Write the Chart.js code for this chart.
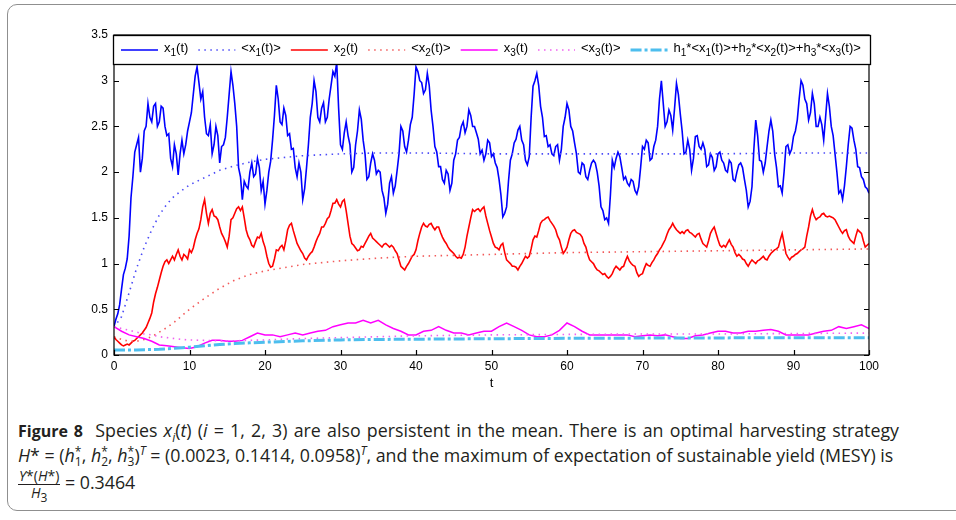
<!DOCTYPE html>
<html>
<head>
<meta charset="utf-8">
<script src="https://cdn.jsdelivr.net/npm/chart.js@4.4.0/dist/chart.umd.min.js"></script>
<style>
  html, body { margin: 0; padding: 0; background: #fff; }
  body { width: 956px; height: 520px; position: relative; overflow: hidden; }
  .frame { position: absolute; left: 7px; top: 4px; width: 990px; height: 507px; box-sizing: border-box;
           border: 1.5px solid #8f8f8f; border-radius: 10px; }
  #plot { position: absolute; left: 0; top: 0; }
  .cap { position: absolute; left: 18px; font-family: "Open Sans", "Noto Sans", sans-serif; font-size: 17.8px;
         color: #231f20; white-space: nowrap; line-height: 22px; }
  .cap b { font-weight: 700; font-size: 16px; }
  .cap sub, .cap sup { font-size: 12px; line-height: 0; }
  .ss { display: inline-block; vertical-align: -4px; line-height: 10px; font-size: 12px; }
  .ss span { display: block; }
  .frac { display: inline-block; vertical-align: middle; text-align: center; font-size: 14px; line-height: 16px; }
  .frac .num { display: block; border-bottom: 1px solid #231f20; padding: 0 1px; }
  .frac .den { display: block; }
</style>
</head>
<body>
<div class="frame"></div>
<canvas id="plot" width="956" height="400"></canvas>

<div class="cap" style="top:419px; word-spacing:1.6px"><b>Figure 8</b>&nbsp; Species <i>x<sub>i</sub></i>(<i>t</i>) (<i>i</i> = 1, 2, 3) are also persistent in the mean. There is an optimal harvesting strategy</div>
<div class="cap" style="top:444px"><i>H</i>* = (<i>h</i><span class="ss"><span>*</span><span>1</span></span>, <i>h</i><span class="ss"><span>*</span><span>2</span></span>, <i>h</i><span class="ss"><span>*</span><span>3</span></span>)<sup><i>T</i></sup> = (0.0023, 0.1414, 0.0958)<sup><i>T</i></sup>, and the maximum of expectation of sustainable yield (MESY) is</div>
<div class="cap" style="top:468px"><span class="frac"><span class="num"><i>Y</i>*(<i>H</i>*)</span><span class="den"><i>H</i><sub>3</sub></span></span> = 0.3464</div>

<script>
// x1, x2 read every 0.5 time units (t = 0, 0.5, ...), with the in-between
// readings at t = 0.25, 0.75, ... kept in the *Mid arrays; x3 every 1
const STEP = 0.5;
const STEP_X3 = 1;

const x1 = [
  0.31, 0.45, 0.72, 0.95, 1.3, 1.95, 2.3, 2.0, 2.45, 2.75,
  2.55, 2.75, 2.55, 2.7, 2.4, 2.15, 2.3, 1.97, 2.35, 2.3,
  2.55, 2.85, 3.15, 2.8, 2.6, 2.4, 2.2, 2.5, 2.1, 2.3,
  2.6, 3.1, 2.75, 2.05, 1.7, 1.85, 2.0, 1.95, 2.15, 1.8,
  1.65, 2.0, 2.35, 2.95, 2.55, 2.7, 2.4, 2.25, 2.05, 2.1,
  1.7, 2.05, 2.6, 3.0, 2.6, 2.7, 2.55, 2.8, 3.1, 3.2,
  2.3, 2.43, 2.4, 2.0, 2.3, 2.68, 2.35, 1.92, 2.1, 2.13,
  2.02, 1.8, 1.55, 1.88, 1.77, 2.02, 2.5, 2.28, 2.35, 2.6,
  3.15, 3.0, 2.86, 3.08, 2.68, 2.28, 2.06, 1.92, 2.02, 1.8,
  2.13, 2.35, 2.5, 2.43, 2.68, 2.5, 2.43, 2.2, 2.13, 2.35,
  2.17, 2.1, 1.92, 1.51, 1.62, 2.13, 2.32, 2.46, 2.35, 2.13,
  2.17, 2.94, 3.08, 2.72, 2.39, 2.28, 2.2, 2.28, 2.13, 2.5,
  2.75, 2.5, 2.32, 2.0, 2.1, 1.95, 2.02, 2.13, 2.0, 1.62,
  1.48, 1.44, 2.13, 2.15, 2.17, 1.92, 1.88, 1.92, 1.8, 1.84,
  2.28, 2.35, 2.13, 2.28, 2.5, 3.0, 2.5, 2.68, 2.46, 2.97,
  2.64, 2.2, 2.35, 2.02, 2.39, 2.28, 2.32, 2.06, 2.2, 2.02,
  2.2, 2.13, 2.02, 2.13, 1.92, 2.0, 2.1, 1.92, 1.62, 1.84,
  2.57, 2.13, 2.0, 2.28, 2.57, 2.2, 1.84, 1.77, 2.28, 2.2,
  2.39, 2.57, 3.0, 2.8, 2.57, 2.86, 2.5, 2.6, 2.35, 2.86,
  2.5, 2.2, 1.77, 1.7, 2.06, 2.5, 2.35, 2.06, 1.95, 1.84,
  1.77
];
const x1Mid = [
  0.39, 0.55, 0.88, 1.05, 1.72, 2.22, 2.38, 2.15, 2.5, 2.6,
  2.72, 2.5, 2.72, 2.5, 2.42, 2.06, 2.2, 2.2, 2.2, 2.45,
  2.65, 3.05, 2.98, 2.88, 2.42, 2.52, 2.3, 2.4, 2.28, 2.38,
  2.85, 2.95, 2.5, 1.95, 1.9, 1.82, 2.1, 1.98, 2.05, 1.9,
  1.8, 2.12, 2.62, 2.8, 2.52, 2.62, 2.42, 2.26, 1.95, 2.0,
  1.82, 2.3, 2.75, 2.88, 2.55, 2.76, 2.6, 2.95, 3.05, 2.7,
  2.25, 2.55, 2.3, 2.05, 2.45, 2.58, 2.2, 1.95, 2.2, 1.98,
  2.0, 1.72, 1.65, 1.95, 1.85, 2.2, 2.45, 2.22, 2.52, 2.85,
  3.1, 2.98, 2.9, 2.95, 2.5, 2.22, 2.06, 1.88, 1.98, 1.88,
  2.2, 2.38, 2.55, 2.5, 2.62, 2.5, 2.36, 2.24, 2.2, 2.32,
  2.2, 2.05, 1.75, 1.55, 1.9, 2.2, 2.36, 2.5, 2.3, 2.08,
  2.6, 3.0, 2.95, 2.6, 2.4, 2.3, 2.18, 2.3, 2.25, 2.6,
  2.68, 2.45, 2.2, 1.98, 2.08, 1.92, 2.1, 2.1, 1.85, 1.58,
  1.5, 1.75, 2.05, 2.22, 2.05, 1.95, 1.85, 1.9, 1.76, 2.05,
  2.25, 2.32, 2.15, 2.35, 2.8, 2.75, 2.55, 2.62, 2.7, 2.85,
  2.45, 2.22, 2.25, 2.15, 2.4, 2.25, 2.25, 2.08, 2.16, 2.06,
  2.22, 2.1, 2.0, 2.1, 1.9, 2.08, 2.05, 1.8, 1.68, 2.25,
  2.4, 2.12, 2.1, 2.45, 2.45, 2.05, 1.85, 2.0, 2.3, 2.25,
  2.45, 2.8, 2.95, 2.75, 2.65, 2.75, 2.5, 2.52, 2.6, 2.72,
  2.4, 2.0, 1.8, 1.85, 2.3, 2.48, 2.25, 2.05, 1.92, 1.82
];

const x2 = [
  0.2, 0.15, 0.11, 0.11, 0.11, 0.15, 0.18, 0.22, 0.27, 0.35,
  0.46, 0.67, 0.82, 0.97, 1.04, 1.04, 1.04, 1.15, 1.04, 1.08,
  1.15, 1.17, 1.33, 1.48, 1.7, 1.44, 1.59, 1.51, 1.4, 1.29,
  1.18, 1.48, 1.55, 1.62, 1.62, 1.37, 1.26, 1.18, 1.29, 1.33,
  1.18, 1.0, 0.97, 1.15, 1.18, 1.15, 1.37, 1.44, 1.29, 1.18,
  1.11, 1.04, 1.11, 1.18, 1.29, 1.4, 1.44, 1.51, 1.66, 1.7,
  1.62, 1.7, 1.44, 1.22, 1.17, 1.15, 1.18, 1.26, 1.33, 1.26,
  1.22, 1.18, 1.22, 1.18, 1.18, 1.11, 0.97, 0.93, 1.0, 1.08,
  1.15, 1.33, 1.44, 1.4, 1.44, 1.37, 1.4, 1.29, 1.22, 1.15,
  1.11, 1.06, 1.06, 1.18, 1.4, 1.59, 1.59, 1.57, 1.62, 1.44,
  1.29, 1.18, 1.15, 1.22, 1.04, 1.0, 0.97, 0.93, 1.0, 1.08,
  1.08, 1.26, 1.29, 1.44, 1.48, 1.51, 1.44, 1.37, 1.26, 1.11,
  1.18, 1.33, 1.37, 1.33, 1.29, 1.18, 1.04, 1.0, 0.93, 0.9,
  0.89, 0.84, 0.89, 0.97, 0.93, 0.97, 1.08, 1.0, 0.97, 0.86,
  0.89, 1.0, 0.97, 1.04, 1.11, 1.18, 1.26, 1.37, 1.44, 1.37,
  1.33, 1.33, 1.37, 1.33, 1.29, 1.33, 1.22, 1.18, 1.33, 1.4,
  1.26, 1.18, 1.18, 1.26, 1.18, 1.08, 1.08, 1.04, 0.97, 1.04,
  1.0, 1.04, 1.08, 1.04, 1.11, 1.15, 1.18, 1.33, 1.11, 1.04,
  1.08, 1.11, 1.15, 1.18, 1.4, 1.59, 1.48, 1.51, 1.55, 1.51,
  1.51, 1.48, 1.4, 1.33, 1.37, 1.26, 1.22, 1.37, 1.33, 1.18,
  1.22
];
const x2Mid = [
  0.17, 0.13, 0.1, 0.12, 0.13, 0.16, 0.2, 0.24, 0.3, 0.4,
  0.58, 0.74, 0.9, 1.02, 1.0, 1.08, 1.1, 1.08, 1.1, 1.05,
  1.12, 1.26, 1.38, 1.62, 1.55, 1.55, 1.52, 1.48, 1.33, 1.24,
  1.3, 1.5, 1.6, 1.58, 1.5, 1.3, 1.2, 1.24, 1.28, 1.24,
  1.08, 0.96, 1.05, 1.14, 1.2, 1.25, 1.42, 1.36, 1.22, 1.14,
  1.06, 1.08, 1.13, 1.24, 1.33, 1.4, 1.49, 1.58, 1.66, 1.65,
  1.68, 1.58, 1.3, 1.2, 1.14, 1.19, 1.22, 1.3, 1.28, 1.24,
  1.2, 1.21, 1.2, 1.2, 1.14, 1.04, 0.95, 0.97, 1.04, 1.1,
  1.25, 1.4, 1.41, 1.43, 1.4, 1.4, 1.34, 1.25, 1.18, 1.13,
  1.08, 1.07, 1.1, 1.3, 1.5, 1.57, 1.6, 1.6, 1.52, 1.36,
  1.22, 1.17, 1.2, 1.12, 1.02, 0.97, 0.96, 0.97, 1.04, 1.06,
  1.16, 1.3, 1.36, 1.47, 1.5, 1.47, 1.41, 1.3, 1.18, 1.14,
  1.26, 1.36, 1.34, 1.32, 1.22, 1.1, 1.02, 0.96, 0.92, 0.88,
  0.86, 0.86, 0.94, 0.95, 0.96, 1.03, 1.03, 0.98, 0.9, 0.88,
  0.95, 0.98, 1.01, 1.08, 1.15, 1.22, 1.32, 1.4, 1.4, 1.35,
  1.35, 1.36, 1.34, 1.31, 1.32, 1.27, 1.2, 1.25, 1.37, 1.33,
  1.2, 1.2, 1.22, 1.21, 1.12, 1.1, 1.05, 1.0, 1.01, 1.02,
  1.03, 1.06, 1.05, 1.08, 1.13, 1.16, 1.26, 1.22, 1.07, 1.07,
  1.1, 1.13, 1.16, 1.3, 1.52, 1.52, 1.5, 1.54, 1.52, 1.52,
  1.5, 1.44, 1.36, 1.36, 1.3, 1.24, 1.3, 1.35, 1.25, 1.2
];

const x3 = [
  0.31, 0.26, 0.22, 0.2, 0.18, 0.15, 0.11, 0.1, 0.09, 0.08,
  0.07, 0.09, 0.13, 0.16, 0.16, 0.15, 0.15, 0.16, 0.2, 0.24,
  0.22, 0.22, 0.2, 0.22, 0.24, 0.22, 0.24, 0.26, 0.27, 0.31,
  0.33, 0.35, 0.35, 0.38, 0.35, 0.38, 0.33, 0.29, 0.26, 0.22,
  0.22, 0.26, 0.27, 0.31, 0.27, 0.24, 0.24, 0.22, 0.24, 0.26,
  0.26, 0.31, 0.35, 0.31, 0.27, 0.22, 0.2, 0.2, 0.22, 0.27,
  0.35, 0.31, 0.26, 0.22, 0.22, 0.22, 0.22, 0.22, 0.22, 0.2,
  0.21, 0.22, 0.21, 0.22, 0.2, 0.18, 0.18, 0.21, 0.22, 0.24,
  0.26, 0.26, 0.24, 0.24, 0.26, 0.26, 0.27, 0.28, 0.26, 0.22,
  0.22, 0.22, 0.22, 0.24, 0.26, 0.27, 0.31, 0.29, 0.31, 0.33,
  0.29
];

// time averages and the harvest combination, on a coarser grid
const meanT = [0, 1, 2, 3, 4, 5, 6, 7, 8, 9, 10, 12, 14, 16, 18, 20, 25, 30, 35, 40, 50, 60, 70, 80, 90, 100];
const mean1 = [0.3, 0.42, 0.68, 0.95, 1.18, 1.37, 1.53, 1.65, 1.74, 1.8, 1.86, 1.94, 2.02, 2.07, 2.11, 2.14, 2.18, 2.2, 2.21, 2.21, 2.2, 2.2, 2.2, 2.2, 2.21, 2.21];
const mean2 = [0.2, 0.17, 0.15, 0.15, 0.17, 0.2, 0.25, 0.3, 0.36, 0.43, 0.5, 0.62, 0.73, 0.82, 0.88, 0.92, 0.99, 1.03, 1.06, 1.08, 1.1, 1.12, 1.13, 1.14, 1.15, 1.16];
const mean3 = [0.31, 0.29, 0.27, 0.25, 0.23, 0.22, 0.2, 0.19, 0.18, 0.17, 0.165, 0.16, 0.155, 0.155, 0.16, 0.165, 0.18, 0.19, 0.2, 0.21, 0.22, 0.225, 0.23, 0.23, 0.235, 0.24];
const harvest = [0.055, 0.055, 0.055, 0.056, 0.058, 0.06, 0.063, 0.068, 0.073, 0.079, 0.085, 0.1, 0.115, 0.125, 0.133, 0.14, 0.155, 0.165, 0.17, 0.173, 0.178, 0.182, 0.185, 0.187, 0.189, 0.19];

const xTicks = [0, 10, 20, 30, 40, 50, 60, 70, 80, 90, 100];
const yTicks = [0, 0.5, 1, 1.5, 2, 2.5, 3, 3.5];

const legendLabels = ['x_1(t)', '<x_1(t)>', 'x_2(t)', '<x_2(t)>', 'x_3(t)', '<x_3(t)>',
  'h_1*<x_1(t)>+h_2*<x_2(t)>+h_3*<x_3(t)>'];

const FONT = '"Liberation Sans", Arial, Helvetica, sans-serif';

function stepped(values, step) {
  return values.map((v, i) => ({ x: i * step, y: v }));
}
// half-step readings merged with the in-between ones
function withMid(values, mids, step) {
  const pts = [];
  values.forEach((v, i) => {
    pts.push({ x: i * step, y: v });
    if (i < mids.length) pts.push({ x: i * step + step / 2, y: mids[i] });
  });
  return pts;
}
function paired(ts, values) {
  return ts.map((t, i) => ({ x: t, y: values[i] }));
}

const DOT = [1.5, 4.5];

const datasets = [
  { data: withMid(x1, x1Mid, STEP), borderColor: '#0000ff', borderWidth: 1.6 },
  { data: paired(meanT, mean1), borderColor: '#4b4bf7', borderWidth: 1.6, borderDash: DOT },
  { data: withMid(x2, x2Mid, STEP), borderColor: '#ff0000', borderWidth: 1.6 },
  { data: paired(meanT, mean2), borderColor: '#f25a5a', borderWidth: 1.6, borderDash: DOT },
  { data: stepped(x3, STEP_X3), borderColor: '#ff00ff', borderWidth: 1.5 },
  { data: paired(meanT, mean3), borderColor: '#f060f0', borderWidth: 1.6, borderDash: DOT },
  { data: paired(meanT, harvest), borderColor: '#4dbeee', borderWidth: 3, borderDash: [11, 3, 3, 3] }
].map((d, i, all) => Object.assign(d, {
  label: legendLabels[i],
  order: all.length - i,
  pointRadius: 0,
  fill: false,
  tension: 0
}));

// text with '_' marking a one-character subscript
function drawRichText(ctx, text, x, y) {
  let i = 0;
  while (i < text.length) {
    if (text[i] === '_') {
      ctx.font = '10px ' + FONT;
      ctx.fillText(text[i + 1], x, y + 4);
      x += ctx.measureText(text[i + 1]).width;
      i += 2;
    } else {
      ctx.font = '13px ' + FONT;
      ctx.fillText(text[i], x, y);
      x += ctx.measureText(text[i]).width;
      i += 1;
    }
  }
  return x;
}

// closed box with inward ticks, then the legend strip over the top of the axes
const axesBox = {
  id: 'axesBox',
  afterDatasetsDraw(chart) {
    const { ctx, chartArea: a, scales: { x, y } } = chart;
    ctx.save();
    ctx.strokeStyle = '#000';
    ctx.lineWidth = 1.2;
    ctx.beginPath();
    xTicks.forEach(v => {
      const px = Math.round(x.getPixelForValue(v)) + 0.5;
      ctx.moveTo(px, a.bottom); ctx.lineTo(px, a.bottom - 5);
    });
    yTicks.forEach(v => {
      const py = Math.round(y.getPixelForValue(v)) + 0.5;
      ctx.moveTo(a.left, py); ctx.lineTo(a.left + 5, py);
      ctx.moveTo(a.right, py); ctx.lineTo(a.right - 5, py);
    });
    ctx.stroke();
    ctx.strokeRect(a.left, a.top, a.right - a.left, a.bottom - a.top);

    // legend
    const top = a.top, h = 29, left = a.left - 1, right = a.right + 2;
    ctx.fillStyle = '#fff';
    ctx.fillRect(left, top, right - left, h);
    ctx.lineWidth = 1.3;
    ctx.strokeRect(left + 0.5, top + 0.5, right - left - 1, h);

    let cx = left + 8;
    const lineY = top + 15, textY = top + 17;
    chart.data.datasets.forEach(ds => {
      ctx.save();
      ctx.strokeStyle = ds.borderColor;
      ctx.lineWidth = ds.borderWidth;
      ctx.setLineDash(ds.borderDash || []);
      ctx.beginPath();
      ctx.moveTo(cx, lineY);
      ctx.lineTo(cx + 37, lineY);
      ctx.stroke();
      ctx.restore();
      ctx.fillStyle = '#000';
      ctx.textBaseline = 'alphabetic';
      const end = drawRichText(ctx, ds.label, cx + 43, textY);
      cx = end + 10;
    });
    ctx.restore();
  }
};

new Chart(document.getElementById('plot'), {
  type: 'line',
  data: { datasets },
  options: {
    responsive: false,
    animation: false,
    events: [],
    layout: { padding: { left: 0, right: 87, top: 35, bottom: 9 } },
    plugins: { legend: { display: false }, tooltip: { enabled: false } },
    scales: {
      x: {
        type: 'linear', min: 0, max: 100,
        afterBuildTicks: s => { s.ticks = xTicks.map(v => ({ value: v })); },
        afterFit: s => { s.height = 36; },
        grid: { display: false, drawTicks: false },
        border: { display: false },
        ticks: { padding: 4, color: '#000', font: { family: FONT, size: 12 }, maxRotation: 0,
                 callback: v => String(v) },
        title: { display: true, text: 't', color: '#000', font: { family: FONT, size: 13 }, padding: 0 }
      },
      y: {
        type: 'linear', min: 0, max: 3.5,
        afterBuildTicks: s => { s.ticks = yTicks.map(v => ({ value: v })); },
        afterFit: s => { s.width = 114; },
        grid: { display: false, drawTicks: false },
        border: { display: false },
        ticks: { padding: 6, color: '#000', font: { family: FONT, size: 12 }, callback: v => String(v) }
      }
    }
  },
  plugins: [axesBox]
});
</script>
</body>
</html>
